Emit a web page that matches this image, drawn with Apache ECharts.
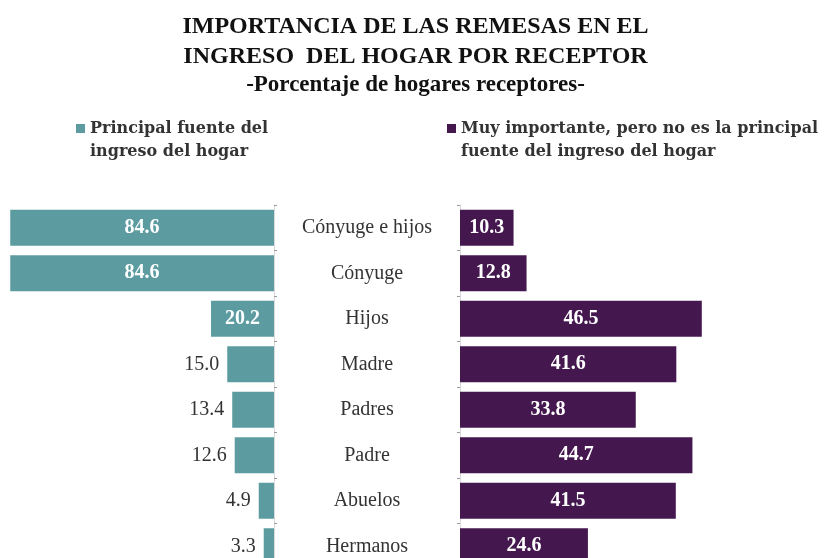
<!DOCTYPE html>
<html>
<head>
<meta charset="utf-8">
<script src="https://cdn.jsdelivr.net/npm/echarts@6/dist/echarts.min.js"></script>
<style>
  html, body { margin: 0; padding: 0; background: #ffffff; }
  #chart { width: 831px; height: 558px; }
</style>
</head>
<body>
<div id="chart"></div>
<script>
// Receptor categories, top to bottom
const categories = ['Cónyuge e hijos', 'Cónyuge', 'Hijos', 'Madre', 'Padres', 'Padre', 'Abuelos', 'Hermanos'];
// Share of households where remittances are the main income source
const principal = [84.6, 84.6, 20.2, 15.0, 13.4, 12.6, 4.9, 3.3];
// Share where remittances are very important but not the main source
const muyImportante = [10.3, 12.8, 46.5, 41.6, 33.8, 44.7, 41.5, 24.6];

const seriesNames = [
  'Principal fuente del\ningreso del hogar',
  'Muy importante, pero no es la principal\nfuente del ingreso del hogar'
];

const TEAL = '#5c9ca1';
const PURPLE = '#44184f';
const SERIF = '"Liberation Serif", "Times New Roman", serif';
const WIDE_SERIF = '"DejaVu Serif", Georgia, serif';

const insideLabel = {
  show: true, position: 'inside', color: '#ffffff',
  fontFamily: SERIF, fontWeight: 'bold', fontSize: 20,
  formatter: p => p.value.toFixed(1)
};
const outsideLabel = {
  show: true, position: 'left', distance: 8, color: '#333333',
  fontFamily: SERIF, fontWeight: 'normal', fontSize: 20,
  formatter: p => p.value.toFixed(1)
};

const chart = echarts.init(document.getElementById('chart'), null, { renderer: 'canvas' });

// A leading blank line keeps the swatch level with the first line of text
const legendBase = {
  padding: 0, itemWidth: 9, itemHeight: 9, icon: 'rect', top: 94,
  formatter: name => '\n' + name,
  textStyle: {
    fontFamily: WIDE_SERIF, fontWeight: 'bold', fontSize: 16,
    color: '#333333', lineHeight: 23
  }
};

chart.setOption({
  backgroundColor: '#ffffff',
  animation: false,
  title: {
    left: 'center', top: 7, itemGap: 0,
    text: 'IMPORTANCIA DE LAS REMESAS EN EL\nINGRESO  DEL HOGAR POR RECEPTOR',
    textStyle: { fontFamily: SERIF, fontWeight: 'bold', fontSize: 24, lineHeight: 30, color: '#111111' },
    subtext: '-Porcentaje de hogares receptores-',
    subtextStyle: { fontFamily: SERIF, fontWeight: 'bold', fontSize: 23, lineHeight: 27, color: '#111111' }
  },
  legend: [
    Object.assign({}, legendBase, { data: [seriesNames[0]], left: 76 }),
    Object.assign({}, legendBase, { data: [seriesNames[1]], left: 447 })
  ],
  grid: [
    { left: 9, width: 265, top: 205, height: 364, outerBoundsMode: 'none', containLabel: false },
    { left: 460, width: 364, top: 205, height: 364, outerBoundsMode: 'none', containLabel: false }
  ],
  xAxis: [
    { gridIndex: 0, type: 'value', min: 0, max: 85, inverse: true, show: false },
    { gridIndex: 1, type: 'value', min: 0, max: 70, show: false }
  ],
  yAxis: [
    {
      gridIndex: 0, type: 'category', data: categories, inverse: true, position: 'right',
      axisLine: { show: true, lineStyle: { color: '#d9d9d9', width: 1 } },
      axisTick: { show: true, length: 3, lineStyle: { color: '#999999' } },
      axisLabel: {
        show: true, align: 'center', margin: 93, color: '#333333',
        fontFamily: SERIF, fontSize: 20
      }
    },
    {
      gridIndex: 1, type: 'category', data: categories, inverse: true, position: 'left',
      axisLine: { show: true, lineStyle: { color: '#d9d9d9', width: 1 } },
      axisTick: { show: true, length: 3, lineStyle: { color: '#999999' } },
      axisLabel: { show: false }
    }
  ],
  series: [
    {
      name: seriesNames[0], type: 'bar', xAxisIndex: 0, yAxisIndex: 0,
      barWidth: 36, itemStyle: { color: TEAL },
      data: principal.map(v => ({ value: v, label: v >= 20 ? insideLabel : outsideLabel }))
    },
    {
      name: seriesNames[1], type: 'bar', xAxisIndex: 1, yAxisIndex: 1,
      barWidth: 36, itemStyle: { color: PURPLE },
      label: insideLabel,
      data: muyImportante
    }
  ]
});
</script>
</body>
</html>
